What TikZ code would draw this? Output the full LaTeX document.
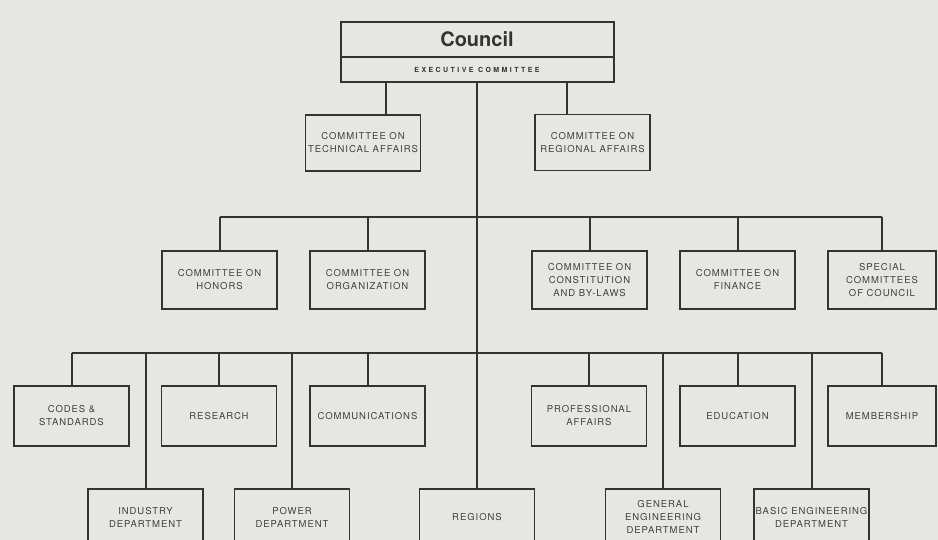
\documentclass[tikz,border=0pt]{standalone}
\usepackage{fontspec}
\setmainfont{TeX Gyre Heros}
\newfontfamily\boxfont[LetterSpace=10]{TeX Gyre Heros}
\newfontfamily\execfont[LetterSpace=35]{TeX Gyre Heros}
\usepackage{xcolor}
\usepackage{tikz}
\definecolor{paper}{HTML}{E6E6E3}
\definecolor{ink}{HTML}{333333}
\definecolor{type}{HTML}{404040}

\begin{document}
\begin{tikzpicture}[
    x=1pt, y=-1pt,
    box/.style={draw=ink, line width=1.3pt, fill=paper, align=center, inner sep=0pt,
                minimum width=115pt, minimum height=57pt, text=type,
                font=\boxfont\fontsize{9.5}{13}\selectfont},
    head/.style={box, line width=2pt, minimum width=273pt, text=ink},
    link/.style={draw=ink, line width=2pt}
  ]
  \clip (0,0) rectangle (938,540);
  \fill[paper] (0,0) rectangle (938,540);

  \node[head, minimum height=35pt, font=\bfseries\fontsize{20}{24}\selectfont] (council) at (477,39.5) {Council};
  \node[head, minimum height=25pt, font=\execfont\bfseries\fontsize{7}{8}\selectfont] (exec) at (477,69.5) {EXECUTIVE COMMITTEE};

  \node[box, minimum height=56pt] (tech) at (363,143)   {COMMITTEE ON\\TECHNICAL AFFAIRS};
  \node[box, minimum height=56pt] (regio) at (592.5,142.5) {COMMITTEE ON\\REGIONAL AFFAIRS};

  \node[box, minimum height=58pt] (honor) at (219.5,280) {COMMITTEE ON\\HONORS};
  \node[box, minimum height=58pt] (organ) at (367.5,280) {COMMITTEE ON\\ORGANIZATION};
  \node[box, minimum height=58pt] (const) at (589.5,280) {COMMITTEE ON\\CONSTITUTION\\AND BY-LAWS};
  \node[box, minimum height=58pt] (finan) at (737.5,280) {COMMITTEE ON\\FINANCE};
  \node[box, minimum height=58pt, minimum width=108pt] (spec) at (882,280) {SPECIAL\\COMMITTEES\\OF COUNCIL};

  \node[box, minimum height=60pt] (codes) at (71.5,416)  {CODES \&\\STANDARDS};
  \node[box, minimum height=60pt] (resea) at (219,416)   {RESEARCH};
  \node[box, minimum height=60pt] (comms) at (367.5,416) {COMMUNICATIONS};
  \node[box, minimum height=60pt] (prof)  at (589,416)   {PROFESSIONAL\\AFFAIRS};
  \node[box, minimum height=60pt] (educ)  at (737.5,416) {EDUCATION};
  \node[box, minimum height=60pt, minimum width=108pt] (memb) at (882,416) {MEMBERSHIP};

  \node[box, minimum height=56pt] (indus) at (145.5,517) {INDUSTRY\\DEPARTMENT};
  \node[box, minimum height=56pt] (power) at (292,517)   {POWER\\DEPARTMENT};
  \node[box, minimum height=56pt] (regns) at (477,517)   {REGIONS};
  \node[box, minimum height=56pt] (gener) at (663,517)   {GENERAL\\ENGINEERING\\DEPARTMENT};
  \node[box, minimum height=56pt] (basic) at (811.5,517) {BASIC ENGINEERING\\DEPARTMENT};

  \coordinate (bus2) at (477,217);
  \coordinate (bus3) at (477,353);

  \draw[link] (exec.south) -- (regns.north);
  \draw[link] ([xshift=23pt]tech.north) -- ([xshift=23pt]tech.north |- exec.south);
  \draw[link] ([xshift=-25.5pt]regio.north) -- ([xshift=-25.5pt]regio.north |- exec.south);

  \draw[link] (honor.north |- bus2) -- (spec.north |- bus2);
  \draw[link] (honor.north) -- (honor.north |- bus2);
  \draw[link] (organ.north) -- (organ.north |- bus2);
  \draw[link] (const.north) -- (const.north |- bus2);
  \draw[link] (finan.north) -- (finan.north |- bus2);
  \draw[link] (spec.north)  -- (spec.north |- bus2);

  \draw[link] (codes.north |- bus3) -- (memb.north |- bus3);
  \draw[link] (codes.north) -- (codes.north |- bus3);
  \draw[link] (resea.north) -- (resea.north |- bus3);
  \draw[link] (comms.north) -- (comms.north |- bus3);
  \draw[link] (prof.north)  -- (prof.north |- bus3);
  \draw[link] (educ.north)  -- (educ.north |- bus3);
  \draw[link] (memb.north)  -- (memb.north |- bus3);

  \draw[link] (indus.north) -- (indus.north |- bus3);
  \draw[link] (power.north) -- (power.north |- bus3);
  \draw[link] (gener.north) -- (gener.north |- bus3);
  \draw[link] (basic.north) -- (basic.north |- bus3);
\end{tikzpicture}
\end{document}
